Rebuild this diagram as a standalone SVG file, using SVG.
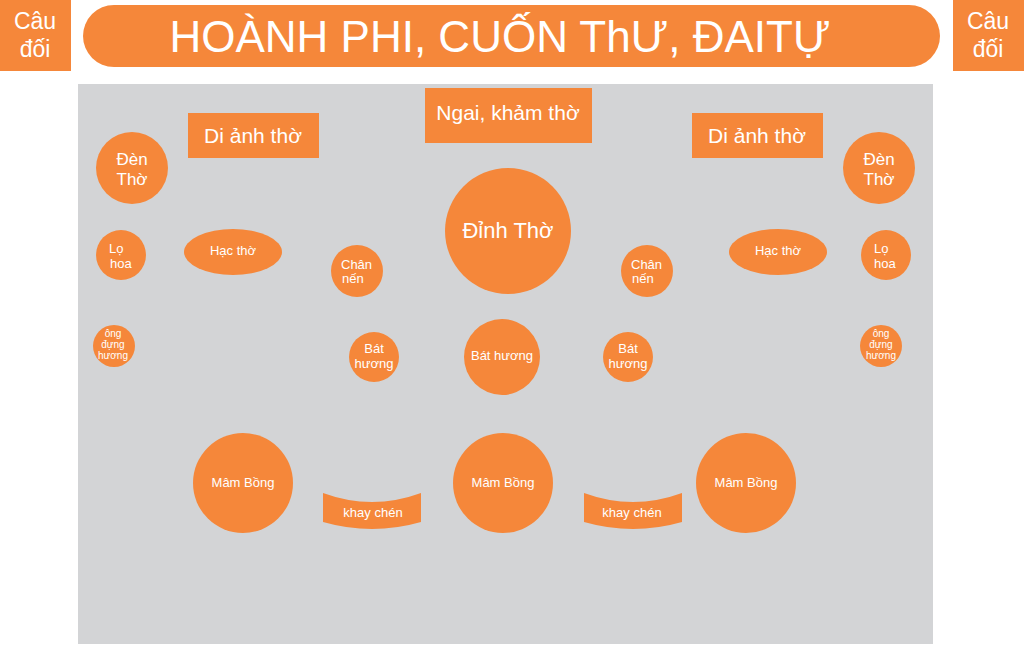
<svg xmlns="http://www.w3.org/2000/svg" width="1024" height="646" viewBox="0 0 1024 646">
<style>
.o{fill:#f5873a}
.t{fill:#ffffff;font-family:"Liberation Sans",Arial,sans-serif}
.c{text-anchor:middle}
</style>
<rect width="1024" height="646" fill="#ffffff"/>
<rect id="floor" x="78" y="84" width="855" height="560" fill="#d3d4d6"/>
<g id="cau-doi-left"><rect class="o" x="0" y="0" width="71" height="71"/><text class="t c" x="35" y="29" font-size="23">Câu</text><text class="t c" x="35" y="57" font-size="23">đối</text></g>
<g id="cau-doi-right"><rect class="o" x="953" y="0" width="71" height="71"/><text class="t c" x="988" y="29" font-size="23">Câu</text><text class="t c" x="988" y="57" font-size="23">đối</text></g>
<g id="title"><rect class="o" x="83" y="5" width="857" height="62" rx="31"/><text class="t c" x="500" y="52" font-size="44">HOÀNH PHI, CUỐN ThƯ, ĐAITỰ</text></g>
<g id="ngai"><rect class="o" x="425" y="88" width="167" height="55"/><text class="t c" x="508" y="120" font-size="21">Ngai, khảm thờ</text></g>
<g id="di-anh-left"><rect class="o" x="188" y="113" width="131" height="45"/><text class="t c" x="253" y="143" font-size="21">Di ảnh thờ</text></g>
<g id="di-anh-right"><rect class="o" x="692" y="113" width="131" height="45"/><text class="t c" x="757" y="143" font-size="21">Di ảnh thờ</text></g>
<g id="den-tho-left"><circle class="o" cx="132" cy="168" r="36"/><text class="t c" x="132" y="165" font-size="17">Đèn</text><text class="t c" x="132" y="185" font-size="17">Thờ</text></g>
<g id="den-tho-right"><circle class="o" cx="879" cy="168" r="36"/><text class="t c" x="879" y="165" font-size="17">Đèn</text><text class="t c" x="879" y="185" font-size="17">Thờ</text></g>
<g id="dinh-tho"><circle class="o" cx="508" cy="231" r="63"/><text class="t c" x="508" y="238" font-size="22">Đỉnh Thờ</text></g>
<g id="lo-hoa-left"><circle class="o" cx="121" cy="255" r="25"/><text class="t" x="109" y="253" font-size="13">Lọ</text><text class="t" x="110" y="268" font-size="13">hoa</text></g>
<g id="lo-hoa-right"><circle class="o" cx="886" cy="255" r="25"/><text class="t" x="874" y="253" font-size="13">Lọ</text><text class="t" x="874" y="268" font-size="13">hoa</text></g>
<g id="hac-tho-left"><ellipse class="o" cx="233" cy="252" rx="49" ry="23"/><text class="t c" x="233" y="255" font-size="13">Hạc thờ</text></g>
<g id="hac-tho-right"><ellipse class="o" cx="778" cy="252" rx="49" ry="23"/><text class="t c" x="778" y="255" font-size="13">Hạc thờ</text></g>
<g id="chan-nen-left"><circle class="o" cx="357" cy="271" r="26"/><text class="t" x="341" y="269" font-size="13">Chân</text><text class="t" x="342" y="283" font-size="13">nến</text></g>
<g id="chan-nen-right"><circle class="o" cx="647" cy="271" r="26"/><text class="t" x="631" y="269" font-size="13">Chân</text><text class="t" x="632" y="283" font-size="13">nến</text></g>
<g id="ong-huong-left"><circle class="o" cx="114" cy="346" r="21"/><text class="t c" x="113" y="337" font-size="10">ông</text><text class="t c" x="113" y="348" font-size="10">đựng</text><text class="t c" x="113" y="359" font-size="10">hương</text></g>
<g id="ong-huong-right"><circle class="o" cx="881" cy="346" r="21"/><text class="t c" x="881" y="337" font-size="10">ông</text><text class="t c" x="881" y="348" font-size="10">đựng</text><text class="t c" x="881" y="359" font-size="10">hương</text></g>
<g id="bat-huong-left"><circle class="o" cx="374" cy="357" r="25"/><text class="t c" x="374" y="353" font-size="13">Bát</text><text class="t c" x="374" y="368" font-size="13">hương</text></g>
<g id="bat-huong-right"><circle class="o" cx="628" cy="357" r="25"/><text class="t c" x="628" y="353" font-size="13">Bát</text><text class="t c" x="628" y="368" font-size="13">hương</text></g>
<g id="bat-huong-center"><circle class="o" cx="502" cy="357" r="38"/><text class="t c" x="502" y="360" font-size="13">Bát hương</text></g>
<g id="mam-bong-left"><circle class="o" cx="243" cy="483" r="50"/><text class="t c" x="243" y="487" font-size="13">Mâm Bồng</text></g>
<g id="mam-bong-center"><circle class="o" cx="503" cy="483" r="50"/><text class="t c" x="503" y="487" font-size="13">Mâm Bồng</text></g>
<g id="mam-bong-right"><circle class="o" cx="746" cy="483" r="50"/><text class="t c" x="746" y="487" font-size="13">Mâm Bồng</text></g>
<g id="khay-left"><path class="o" d="M323,493 Q372,511 421,493 L421,522 Q372,536 323,522 Z"/><text class="t c" x="373" y="517" font-size="13">khay chén</text></g>
<g id="khay-right"><path class="o" d="M584,493 Q633,511 682,493 L682,522 Q633,536 584,522 Z"/><text class="t c" x="632" y="517" font-size="13">khay chén</text></g>
<g id="connectors"></g>
</svg>
